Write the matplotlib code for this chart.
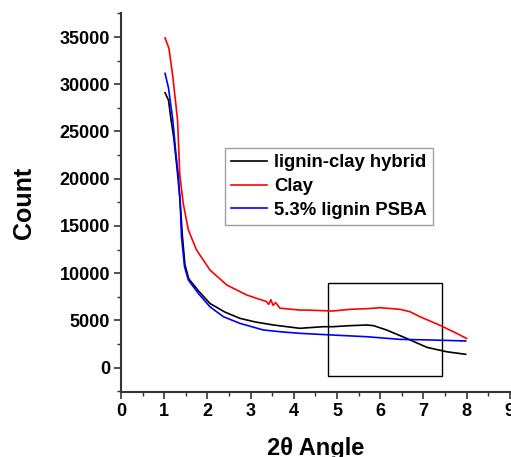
import matplotlib
matplotlib.use("Agg")
import matplotlib.pyplot as plt
from matplotlib.patches import Rectangle
from matplotlib.ticker import MultipleLocator

plt.rcParams['font.family'] = ['Liberation Sans', 'DejaVu Sans']
plt.rcParams['font.weight'] = 'bold'

# Clay
clay_x = [1.02, 1.11, 1.20, 1.31, 1.36, 1.44, 1.56, 1.75, 2.06, 2.45, 2.91,
          3.20, 3.37, 3.42, 3.47, 3.52, 3.58, 3.68, 4.14, 4.30, 4.90, 5.30,
          5.70, 6.00, 6.46, 6.69, 6.92, 7.38, 7.77, 8.00]
clay_y = [34900, 33800, 30800, 26200, 20500, 17400, 14570, 12450, 10340, 8750, 7700,
          7250, 7000, 6700, 7200, 6600, 6900, 6300, 6100, 6100, 6000, 6180,
          6250, 6350, 6180, 5930, 5400, 4500, 3640, 3100]

# lignin-clay hybrid
hyb_x = [1.02, 1.10, 1.16, 1.22, 1.30, 1.37, 1.42, 1.48, 1.57, 1.80, 2.06, 2.40,
         2.75, 3.10, 3.53, 4.14, 4.68, 4.90, 5.30, 5.69, 5.85, 6.15, 6.61, 7.08,
         7.54, 7.98]
hyb_y = [29100, 28300, 26200, 24400, 21000, 17600, 14000, 10900, 9400, 8100, 6800, 5900,
         5230, 4850, 4520, 4170, 4340, 4340, 4450, 4520, 4450, 3990, 3110, 2160,
         1690, 1420]

# 5.3% lignin PSBA
psba_x = [1.02, 1.10, 1.20, 1.27, 1.33, 1.37, 1.40, 1.47, 1.56, 1.79, 2.06, 2.37,
          2.75, 3.29, 3.70, 4.14, 4.90, 5.69, 6.46, 7.23, 7.98]
psba_y = [31150, 29600, 26200, 22700, 20200, 17400, 13900, 10700, 9280, 7870, 6450, 5400,
          4700, 4000, 3800, 3640, 3460, 3280, 3000, 2930, 2830]

fig = plt.figure(figsize=(5.11, 4.57), dpi=100)
ax = fig.add_axes([121 / 511, 1 - 392 / 457, 1 - 121 / 511, (392 - 13) / 457])

ax.plot(hyb_x, hyb_y, color='black', lw=1.2, label='lignin-clay hybrid')
ax.plot(clay_x, clay_y, color='#ff0000', lw=1.2, label='Clay')
ax.plot(psba_x, psba_y, color='#0000ff', lw=1.2, label='5.3% lignin PSBA')

ax.add_patch(Rectangle((4.79, -850), 7.43 - 4.79, 9000 + 850, fill=False,
                       edgecolor='black', lw=1.0))

ax.set_xlim(0, 9.03)
ax.set_ylim(-2570, 37540)
ax.xaxis.set_major_locator(MultipleLocator(1))
ax.xaxis.set_minor_locator(MultipleLocator(0.5))
ax.yaxis.set_major_locator(MultipleLocator(5000))
ax.yaxis.set_minor_locator(MultipleLocator(2500))

for s in ['top', 'right']:
    ax.spines[s].set_visible(False)
for s in ['left', 'bottom']:
    ax.spines[s].set_color('#333333')
    ax.spines[s].set_linewidth(1.5)

ax.tick_params(which='major', direction='out', length=5, width=1.2, color='#333333',
               labelsize=13, pad=3)
ax.tick_params(which='minor', direction='out', length=3, width=1.0, color='#333333')
for lab in ax.get_xticklabels() + ax.get_yticklabels():
    lab.set_fontweight('bold')

ax.set_xlabel('2θ Angle', fontsize=17, fontweight='bold', labelpad=12)
ax.set_ylabel('Count', fontsize=18, fontweight='bold', labelpad=17)

leg = ax.legend(loc='upper left', bbox_to_anchor=(225 / 511, 1 - 148 / 457),
                bbox_transform=fig.transFigure, fontsize=13.3, frameon=True,
                fancybox=False, edgecolor='#888888', handlelength=1.9,
                handletextpad=0.4, borderpad=0.35, labelspacing=0.36,
                borderaxespad=0)
leg.get_frame().set_linewidth(1.0)
for t in leg.get_texts():
    t.set_fontweight('bold')

fig.savefig('out.png', dpi=100)
